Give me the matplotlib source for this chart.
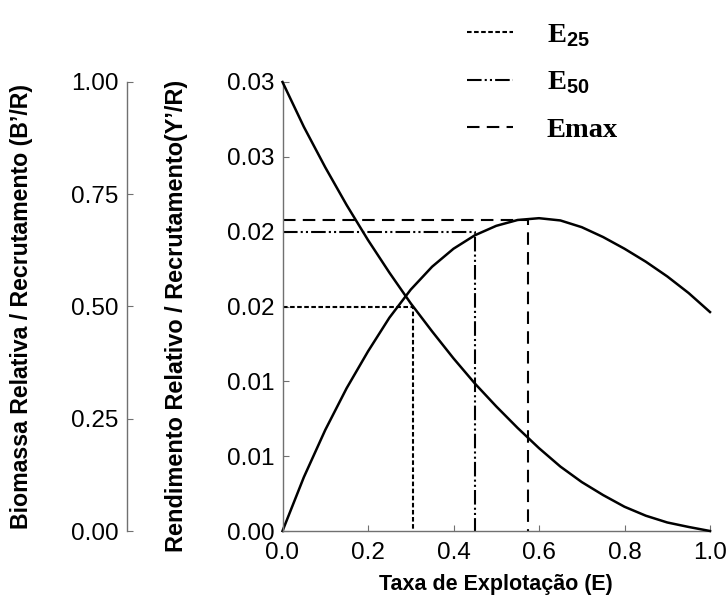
import numpy as np
import matplotlib.pyplot as plt
from matplotlib.lines import Line2D

plt.rcParams['font.family'] = ['Liberation Sans', 'DejaVu Sans']
plt.rcParams['mathtext.fontset'] = 'custom'
plt.rcParams['mathtext.rm'] = 'Liberation Sans:bold'

# taxa de explotacao E
E = [0.00, 0.05, 0.10, 0.15, 0.20, 0.25, 0.30, 0.35, 0.40, 0.45, 0.50,
     0.55, 0.60, 0.65, 0.70, 0.75, 0.80, 0.85, 0.90, 0.95, 1.00]
# Y'/R (eixo interno)
yr = [0.0, 0.0036, 0.00675, 0.00954, 0.0120, 0.01425, 0.01613, 0.01766, 0.01886,
      0.01976, 0.02039, 0.02078, 0.02090, 0.02075, 0.02030, 0.01964, 0.01886,
      0.01799, 0.01701, 0.01590, 0.01463]
# B'/R (eixo externo)
br = [1.000, 0.900, 0.810, 0.726, 0.648, 0.5755, 0.507, 0.4445, 0.3845, 0.3285,
      0.2775, 0.2295, 0.1845, 0.1435, 0.109, 0.080, 0.054, 0.034, 0.019, 0.009, 0.0]

# pontos de referencia
ref_names = ['E$_{25}$', 'E$_{50}$', 'Emax']
ref_e = [0.306, 0.450, 0.575]
ref_y = [0.0150, 0.0200, 0.0208]

yticks = [0, 0.005, 0.010, 0.015, 0.020, 0.025, 0.030]
ytick_labels = ['0.00', '0.01', '0.01', '0.02', '0.02', '0.03', '0.03']
bticks = [0, 0.25, 0.5, 0.75, 1.0]
xticks = [0, 0.2, 0.4, 0.6, 0.8, 1.0]

styles = [dict(dashes=(2.2, 1.2)),
          dict(dashes=(7, 1.5, 1, 1.5, 1, 1.5)),
          dict(dashes=(6, 3.5))]

gray = '#707070'

fig = plt.figure(figsize=(7.27, 6.02), dpi=100)
ax = fig.add_axes([282.5 / 727, 1 - 531 / 602, 427.5 / 727, 449 / 602])
ax2 = ax.twinx()

ax.plot(E, yr, color='black', lw=1.8, clip_on=False, solid_joinstyle='round')
ax2.plot(E, br, color='black', lw=1.8, clip_on=False, solid_joinstyle='round')

handles = []
for name, e, y, st in zip(ref_names, ref_e, ref_y, styles):
    ax.plot([0, e, e], [y, y, 0], color='black', lw=1.5, **st)
    handles.append(Line2D([], [], color='black', lw=1.5, **st))

ax.set_xlim(0, 1)
ax.set_ylim(0, 0.03)
ax2.set_ylim(0, 1)
ax.set_xticks(xticks)
ax.set_xticklabels(['%.1f' % x for x in xticks])
ax.set_yticks(yticks)
ax.set_yticklabels(ytick_labels)
ax2.set_yticks(bticks)
ax2.set_yticklabels(['%.2f' % b for b in bticks])

for s in ['top', 'right']:
    ax.spines[s].set_visible(False)
for s in ['top', 'right', 'bottom']:
    ax2.spines[s].set_visible(False)
ax2.spines['left'].set_visible(True)
ax2.spines['left'].set_position(('outward', 112))
ax2.yaxis.set_ticks_position('left')
ax2.yaxis.set_label_position('left')

for a in (ax, ax2):
    for s in a.spines.values():
        s.set_color(gray)
        s.set_linewidth(1.0)
    a.tick_params(direction='in', length=4, color=gray, labelsize=17.5, pad=6)
ax.tick_params(axis='x', pad=8)

ax.set_xlabel('Taxa de Explotação (E)', fontsize=15.5, fontweight='bold', labelpad=7)
ax.set_ylabel('Rendimento Relativo / Recrutamento(Y’/R)', fontsize=16.9, fontweight='bold')
ax2.set_ylabel('Biomassa Relativa / Recrutamento (B’/R)', fontsize=16.7, fontweight='bold')
ax.yaxis.set_label_coords(-0.221, 0.479)
ax2.yaxis.set_label_coords(-0.584, 0.501)

fig.legend(handles, ref_names, loc='upper left', bbox_to_anchor=(453 / 727, 1 - 8 / 602),
           frameon=False, handlelength=1.6, handletextpad=1.2, labelspacing=0.72,
           borderpad=0, prop={'family': 'Liberation Serif', 'weight': 'bold', 'size': 20.5})

fig.savefig('out.png', dpi=100)
